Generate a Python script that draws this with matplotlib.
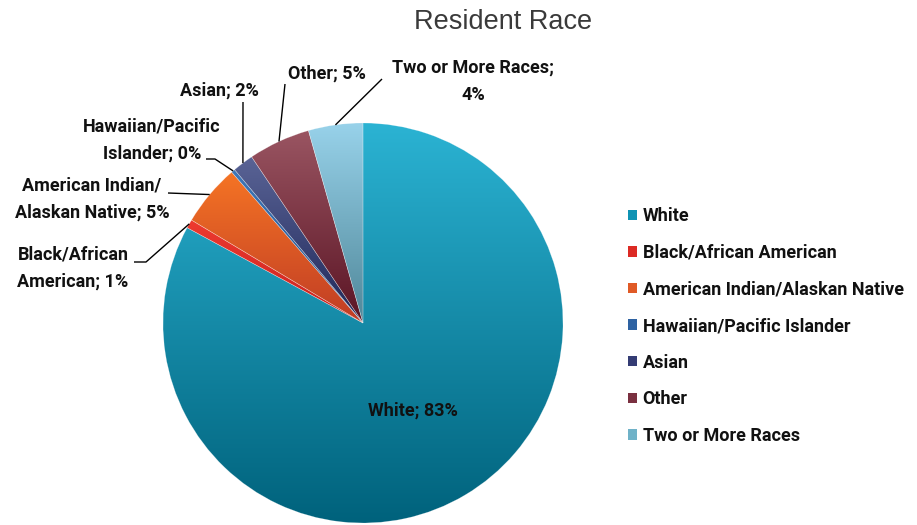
import numpy as np
import matplotlib
matplotlib.use("Agg")
import matplotlib.pyplot as plt
from matplotlib.colors import LinearSegmentedColormap
from matplotlib.patches import Patch

categories = ["White", "Black/African American", "American Indian/Alaskan Native",
              "Hawaiian/Pacific Islander", "Asian", "Other", "Two or More Races"]
values = [82.9, 0.7, 5.0, 0.3, 1.7, 5.0, 4.4]
slice_labels = ["White; 83%", "Black/African\nAmerican; 1%", "American Indian/\nAlaskan Native; 5%",
                "Hawaiian/Pacific\nIslander; 0%", "Asian; 2%", "Other; 5%", "Two or More Races;\n4%"]

top_colors = ["#2bb3d3", "#ee3a30", "#f57425", "#3f78b8", "#5a6496", "#9a5562", "#98d2ea"]
bot_colors = ["#00627c", "#c8201c", "#c03c24", "#1e4a86", "#1e2658", "#5a1424", "#4f8799"]
mid_colors = ["#0f93b4", "#dc2a24", "#e05a26", "#2e62a2", "#343c74", "#7a3040", "#6fb2c8"]

W, H = 917, 525
fig = plt.figure(figsize=(W / 100, H / 100), dpi=100)
cx, cy, R = 363, 323, 200
ax = fig.add_axes([(cx - R) / W, (H - cy - R) / H, 2 * R / W, 2 * R / H])

wedges, _ = ax.pie(values, startangle=90, counterclock=False, radius=1,
                   wedgeprops=dict(linewidth=0.4, edgecolor=(1, 1, 1, 0.35)))

for w, c1, c2 in zip(wedges, top_colors, bot_colors):
    ext = w.get_path().get_extents()
    cmap = LinearSegmentedColormap.from_list("g", [c1, c2])
    grad = np.linspace(0, 1, 256).reshape(-1, 1)
    im = ax.imshow(grad, cmap=cmap, aspect="auto", origin="upper",
                   extent=(ext.x0, ext.x1, ext.y0, ext.y1), zorder=w.get_zorder() - 0.1,
                   interpolation="bilinear")
    im.set_clip_path(w)
    w.set_facecolor("none")

ax.set_xlim(-1, 1)
ax.set_ylim(-1, 1)
ax.set_aspect("equal")
ax.axis("off")

fam = ["Roboto", "DejaVu Sans"]
lab_kw = dict(fontsize=13, fontweight="bold", family=fam,
              color="#111111", ha="center", va="center", linespacing=1.7)


def p2d(px, py):
    return (px - cx) / R, (cy - py) / R


def wedge_mid(w):
    a = np.deg2rad((w.theta1 + w.theta2) / 2)
    return np.cos(a), np.sin(a)


# label text positions (pixels) and leader elbow points (pixels)
text_pos = [(413, 411), (73, 268), (92, 199), (152, 140), (219, 91), (327, 74), (473, 81)]
leader_start = [None, [(134, 262), (146, 262)], [(168, 193)], [(206, 159), (215, 159)],
                [(243, 102)], [(285, 84)], [(382, 79)]]

for i, w in enumerate(wedges):
    tx, ty = p2d(*text_pos[i])
    ax.text(tx, ty, slice_labels[i], clip_on=False, **lab_kw)
    if leader_start[i] is not None:
        pts = [p2d(*p) for p in leader_start[i]] + [wedge_mid(w)]
        xs, ys = zip(*pts)
        ax.plot(xs, ys, color="black", lw=1.0, clip_on=False, solid_capstyle="butt")

fig.text(503 / W, 1 - 22 / H, "Resident Race", ha="center", va="center",
         fontsize=19.5, color="#3a3a3a", family=["Liberation Sans", "DejaVu Sans"])

handles = [Patch(facecolor=c, edgecolor="none") for c in mid_colors]
leg = fig.legend(handles, categories, loc="upper left", bbox_to_anchor=(621 / W, 1 - 200 / H),
                 frameon=False, handlelength=0.5, handleheight=0.5, handletextpad=0.3,
                 labelspacing=1.03, borderaxespad=0,
                 prop=dict(size=13, weight="bold", family=fam))
for t in leg.get_texts():
    t.set_color("#111111")

fig.savefig("out.png", dpi=100)
